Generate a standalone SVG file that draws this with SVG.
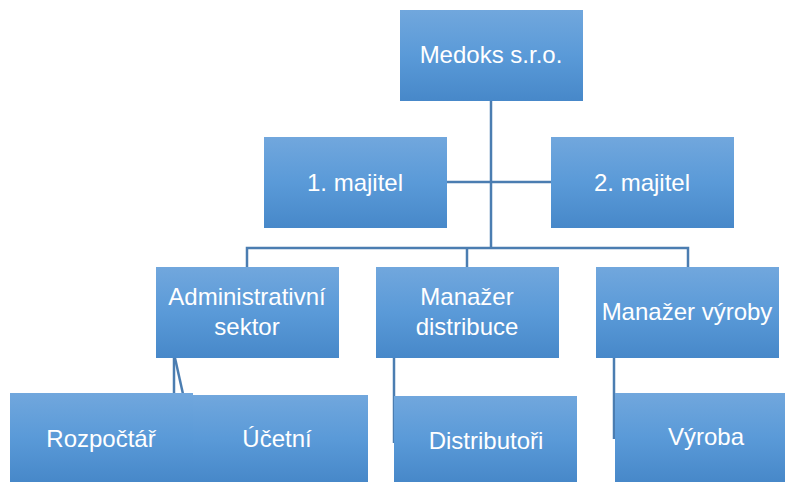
<svg xmlns="http://www.w3.org/2000/svg" width="785" height="482" viewBox="0 0 785 482">
<defs>
<linearGradient id="g" x1="0" y1="0" x2="0" y2="1">
<stop offset="0" stop-color="#71a7dd"/>
<stop offset="0.5" stop-color="#5a9ad8"/>
<stop offset="1" stop-color="#4788c9"/>
</linearGradient>
<style>
.box{fill:url(#g);}
.t{font-family:"Liberation Sans",Arial,sans-serif;font-size:24px;fill:#ffffff;text-anchor:middle;}
.c{stroke:#4b7db1;stroke-width:2.5;fill:none;}
</style>
</defs>
<rect width="785" height="482" fill="#ffffff"/>
<g id="connectors">
<path class="c" d="M491 101 V248"/>
<path class="c" d="M446 182 H551"/>
<path class="c" d="M247 267 V248 H688 V267"/>
<path class="c" d="M467 248 V267"/>
<path class="c" d="M174 358 V394"/>
<path class="c" d="M175 358 L183 394"/>
<path class="c" d="M394 358 V443"/>
<path class="c" d="M614 358 V439"/>
</g>
<g id="medoks"><rect class="box" x="400" y="10" width="183" height="91"/><text class="t" x="491" y="63">Medoks s.r.o.</text></g>
<g id="majitel1"><rect class="box" x="264" y="137" width="183" height="91"/><text class="t" x="355" y="191">1. majitel</text></g>
<g id="majitel2"><rect class="box" x="551" y="137" width="183" height="91"/><text class="t" x="642" y="191">2. majitel</text></g>
<g id="admin"><rect class="box" x="156" y="267" width="183" height="91"/><text class="t" x="247" y="305">Administrativní</text><text class="t" x="247" y="335">sektor</text></g>
<g id="distribuce"><rect class="box" x="376" y="267" width="183" height="91"/><text class="t" x="467" y="305">Manažer</text><text class="t" x="467" y="335">distribuce</text></g>
<g id="vyroby"><rect class="box" x="596" y="267" width="183" height="91"/><text class="t" x="687" y="320">Manažer výroby</text></g>
<g id="rozpoctar"><rect class="box" x="10" y="393" width="183" height="89"/><text class="t" x="101" y="447">Rozpočtář</text></g>
<g id="ucetni"><rect class="box" x="193" y="395" width="175" height="87"/><text class="t" x="277" y="447">Účetní</text></g>
<g id="distributori"><rect class="box" x="394" y="396" width="183" height="86"/><text class="t" x="486" y="449">Distributoři</text></g>
<g id="vyroba"><rect class="box" x="615" y="393" width="170" height="89"/><text class="t" x="706" y="445">Výroba</text></g>
</svg>
